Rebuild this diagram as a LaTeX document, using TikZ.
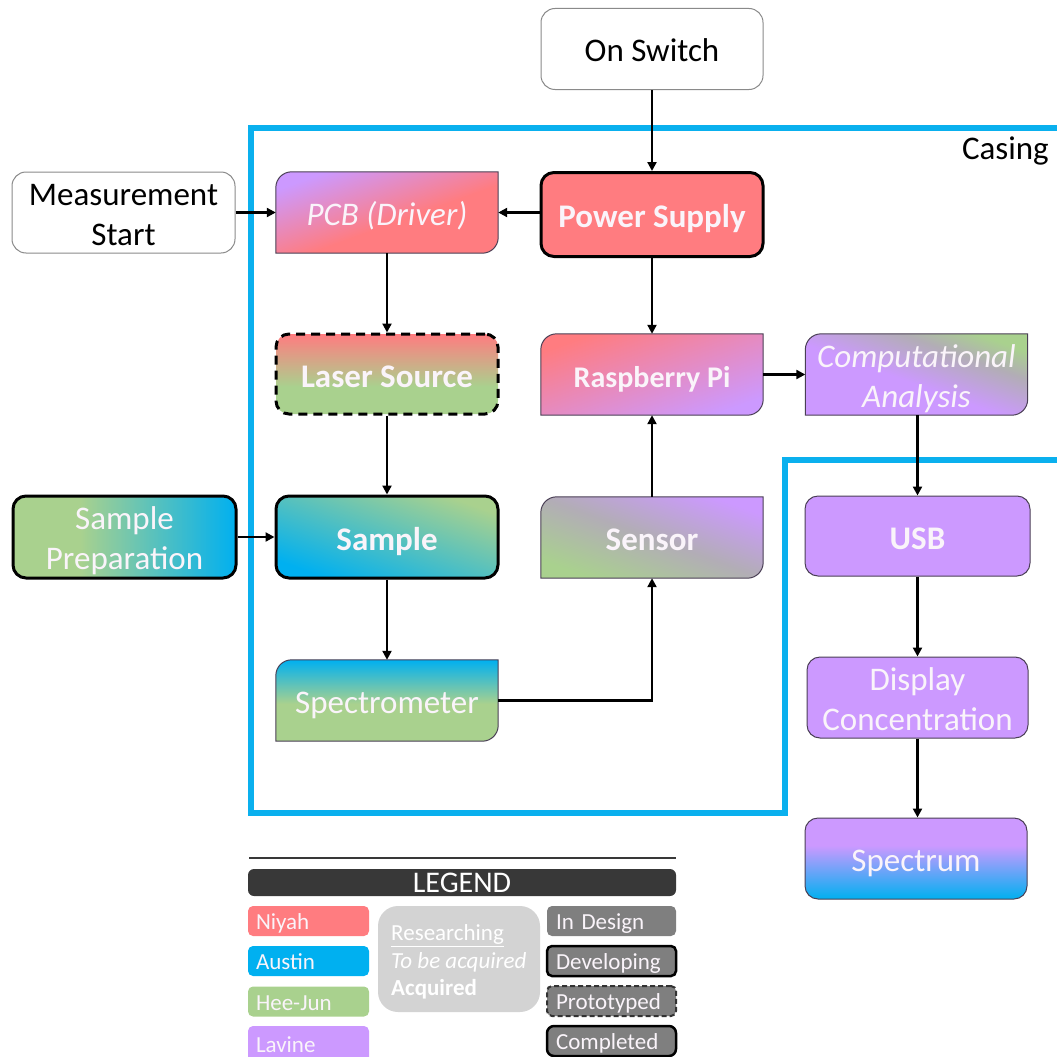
\documentclass[tikz,border=0pt]{standalone}
\usepackage{fontspec}
\setmainfont{Carlito}
\usetikzlibrary{arrows.meta,calc,backgrounds}

\definecolor{niyah}{HTML}{FF7C80}
\definecolor{austin}{HTML}{00B0F0}
\definecolor{heejun}{HTML}{A9D18E}
\definecolor{lavine}{HTML}{CC99FF}
\definecolor{casingblue}{HTML}{0AB0EE}
\definecolor{midgray}{HTML}{B2ADB6}
\definecolor{boxedge}{HTML}{4A3F55}
\definecolor{statusgray}{HTML}{7F7F7F}
\definecolor{notegray}{HTML}{D3D3D3}
\definecolor{legendbar}{HTML}{383838}
\definecolor{paletext}{HTML}{FAF4FA}
\definecolor{whiteedge}{HTML}{8A8A8A}

% colour ramps for the shaded blocks (active range 25bp--75bp)
\pgfdeclareverticalshading{pcbfade}{100bp}{color(0bp)=(niyah); color(25bp)=(niyah); color(45bp)=(niyah); color(75bp)=(lavine); color(100bp)=(lavine)}
\pgfdeclareverticalshading{laserfade}{100bp}{color(0bp)=(heejun); color(25bp)=(heejun); color(42bp)=(heejun); color(75bp)=(niyah); color(100bp)=(niyah)}
\pgfdeclareverticalshading{rpifade}{100bp}{color(0bp)=(lavine); color(25bp)=(lavine); color(75bp)=(niyah); color(100bp)=(niyah)}
\pgfdeclareverticalshading{compfade}{100bp}{color(0bp)=(lavine); color(25bp)=(lavine); color(46bp)=(lavine); color(64bp)=(midgray); color(75bp)=(heejun); color(100bp)=(heejun)}
\pgfdeclareverticalshading{prepfade}{100bp}{color(0bp)=(heejun); color(25bp)=(heejun); color(40bp)=(heejun); color(75bp)=(austin); color(100bp)=(austin)}
\pgfdeclareverticalshading{samplefade}{100bp}{color(0bp)=(austin); color(25bp)=(austin); color(75bp)=(heejun); color(100bp)=(heejun)}
\pgfdeclareverticalshading{sensorfade}{100bp}{color(0bp)=(heejun); color(25bp)=(heejun); color(50bp)=(midgray); color(75bp)=(lavine); color(100bp)=(lavine)}
\pgfdeclareverticalshading{specfade}{100bp}{color(0bp)=(heejun); color(25bp)=(heejun); color(48bp)=(heejun); color(75bp)=(austin); color(100bp)=(austin)}
\pgfdeclareverticalshading{spectrumfade}{100bp}{color(0bp)=(austin); color(25bp)=(austin); color(58bp)=(lavine); color(75bp)=(lavine); color(100bp)=(lavine)}

\newcommand\boxfont{\fontsize{33}{40}\selectfont}
\newcommand\legfont{\fontsize{23}{27.5}\selectfont}
% struts that fix the line boxes of block and legend texts
\newcommand\boxstrut{\rule[-7pt]{0pt}{40pt}}
\newcommand\topstrut{\rule{0pt}{33pt}}
\newcommand\lowstrut{\rule[-8pt]{0pt}{8pt}}
\newcommand\legstrut{\rule[-6pt]{0pt}{29pt}}

% block with rounded top-left and bottom-right corners, drawn behind its node
\newcommand\halfround[3]{%
  \begin{pgfonlayer}{background}
    \path[shade, shading=#2, shading angle=#3, draw=boxedge, line width=1pt]
      let \p1=(#1.north west), \p2=(#1.south east) in
      (\x1,\y2) -- (\x1,{\y1-16pt})
        .. controls (\x1,{\y1-7pt}) and ({\x1+7pt},\y1) .. ({\x1+16pt},\y1)
      -- (\x2,\y1) -- (\x2,{\y2+16pt})
        .. controls (\x2,{\y2+7pt}) and ({\x2-7pt},\y2) .. ({\x2-16pt},\y2)
      -- cycle;
  \end{pgfonlayer}}

\begin{document}
\begin{tikzpicture}[x=1pt,y=-1pt,
  box/.style={minimum width=222pt, minimum height=81pt, inner sep=0pt,
    align=center, text=paletext, font=\boxfont,
    execute at begin node=\boxstrut},
  plainbox/.style={box, rounded corners=14pt, fill=white, draw=whiteedge,
    line width=1pt, text=black},
  roundbox/.style={box, rounded corners=13pt, draw=boxedge, line width=1pt},
  heavybox/.style={box, rounded corners=13pt, draw=black, line width=3pt},
  flow/.style={line width=2.2pt, draw=black, -{Triangle[length=9pt,width=9pt]}},
  legbox/.style={rounded corners=5pt, minimum height=30pt, inner ysep=0pt,
    inner xsep=8pt, text width=105pt, align=left, text=paletext, font=\legfont,
    execute at begin node=\legstrut},
  statusbox/.style={legbox, inner xsep=9pt, text width=111pt, fill=statusgray}
]
\useasboundingbox (0,0) rectangle (1057,1057);

% casing outline
\draw[casingblue, line width=5.5pt, line join=miter]
  (1062,128) -- (251,128) -- (251,813) -- (785,813) -- (785,460) -- (1062,460);
\node[anchor=east, font=\boxfont, text=black, inner sep=0pt] (casinglabel) at (1049,151) {Casing};

% blocks
\node[plainbox] (onsw) at (652,49) {On Switch};
\node[plainbox, minimum width=223pt] (meas) at (123.5,212.5) {\topstrut Measurement\\Start\lowstrut};
\node[box] (pcb) at (387,212.5) {\itshape PCB (Driver)};
\halfround{pcb}{pcbfade}{20}
\node[heavybox, fill=niyah, minimum height=84pt] (power) at (652,214.5) {\bfseries Power Supply};
\node[heavybox, dashed, dash pattern=on 9pt off 6pt, shade, shading=laserfade, minimum height=80pt] (laser) at (387,374) {\bfseries Laser Source};
\node[box] (rpi) at (652,374.5) {\bfseries\fontsize{30}{36}\selectfont Raspberry Pi};
\halfround{rpi}{rpifade}{20}
\node[box] (comp) at (916.5,374.5) {\itshape\topstrut Computational\\\itshape Analysis\lowstrut};
\halfround{comp}{compfade}{-20}
\node[heavybox, shade, shading=prepfade, shading angle=-90, minimum width=223pt, minimum height=82pt] (prep) at (124.5,537) {\topstrut Sample\\Preparation\lowstrut};
\node[heavybox, shade, shading=samplefade, shading angle=-20, minimum height=82pt] (sample) at (387,537) {\bfseries Sample};
\node[box] (sensor) at (652,537.5) {\bfseries Sensor};
\halfround{sensor}{sensorfade}{-20}
\node[roundbox, fill=lavine, minimum width=225pt, minimum height=80pt] (usb) at (917.5,536) {\bfseries USB};
\node[box] (spec) at (387,700.5) {Spectrometer};
\halfround{spec}{specfade}{0}
\node[roundbox, fill=lavine, minimum width=221pt] (disp) at (917.5,697.5) {\topstrut Display\\Concentration\lowstrut};
\node[roundbox, shade, shading=spectrumfade, minimum width=222pt] (spectrum) at (916,858.5) {Spectrum};

% connectors
\draw[flow] (onsw) -- (power);
\draw[flow] (meas) -- (pcb);
\draw[flow] (power.west |- pcb.east) -- (pcb.east);
\draw[flow] (pcb) -- (laser);
\draw[flow] (power) -- (rpi);
\draw[flow] (laser) -- (sample);
\draw[flow] (prep) -- (sample);
\draw[flow] (sample) -- (spec);
\draw[flow] (spec.east) -| (sensor.south);
\draw[flow] (sensor) -- (rpi);
\draw[flow] (rpi) -- (comp);
\draw[flow] (comp.south -| usb.north) -- (usb.north);
\draw[flow] (usb) -- (disp);
\draw[flow] (disp.south) -- (disp.south |- spectrum.north);

% legend
\draw[legendbar, line width=1.5pt] (249,858) coordinate (legl) -- (676,858) coordinate (legr);
\node[fill=legendbar, rounded corners=6pt, minimum width=428pt, minimum height=27pt,
  inner sep=0pt, text=white, font=\fontsize{30}{30}\selectfont] (lgtitle) at (462,882.5) {LEGEND};

\node[legbox, fill=niyah] (lgniyah) at (308.5,921) {Niyah};
\node[legbox, fill=austin] (lgaustin) at (308.5,961) {Austin};
\node[legbox, fill=heejun] (lgheejun) at (308.5,1001.5) {Hee-Jun};
\node[legbox, fill=lavine, minimum height=36pt] (lglavine) at (308.5,1044) {Lavine};

\node[fill=notegray, rounded corners=20pt, minimum width=162pt, minimum height=106pt,
  inner sep=0pt] (lgnote) at (459,959) {};
\node[anchor=west, align=left, font=\legfont, text=white, inner sep=0pt] (lgnotetext)
  at (391,962) {\underline{Researching}\\\textit{To be acquired}\\\textbf{Acquired}};

\node[statusbox] (lgdesign) at (611.5,921) {In Design};
\node[statusbox, draw=black, line width=2.5pt] (lgdevel) at (611.5,961) {Developing};
\node[statusbox, draw=black!80, line width=2pt, dashed, dash pattern=on 5pt off 3pt] (lgproto) at (611.5,1001) {Prototyped};
\node[statusbox, draw=black, line width=2.5pt, rounded corners=7pt] (lgdone) at (611.5,1041) {Completed};
\end{tikzpicture}
\end{document}
